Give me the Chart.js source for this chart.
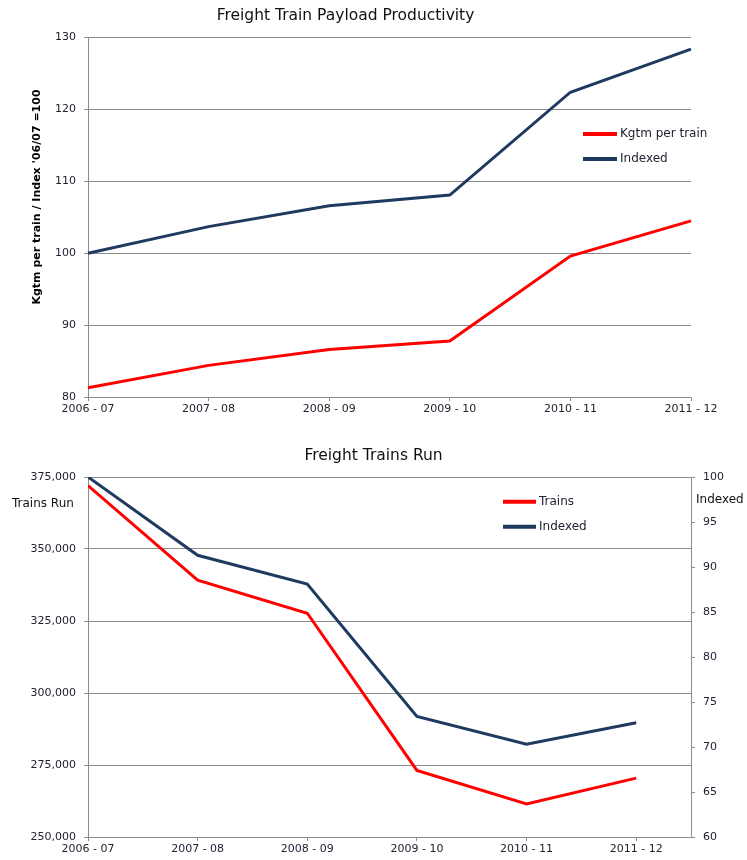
<!DOCTYPE html>
<html>
<head>
<meta charset="utf-8">
<script src="https://cdn.jsdelivr.net/npm/chart.js@4.4.1/dist/chart.umd.min.js"></script>
<style>
  body { margin: 0; background: #fff; }
  #wrap { position: relative; width: 747px; height: 860px; }
  canvas { position: absolute; left: 0; }
  #top { top: 0; }
  #bottom { top: 436px; }
</style>
</head>
<body>
<div id="wrap">
  <canvas id="top" width="747" height="420"></canvas>
  <canvas id="bottom" width="747" height="424"></canvas>
</div>
<script>
// financial years on the x axis
const years = ['2006 - 07', '2007 - 08', '2008 - 09', '2009 - 10', '2010 - 11', '2011 - 12'];

// top chart: payload productivity
const kgtmPerTrain = [81.3, 84.4, 86.6, 87.8, 99.6, 104.5];
const kgtmIndexed = [100, 103.7, 106.6, 108.1, 122.4, 128.4];

// bottom chart: trains run
const trainsRun = [372000, 339200, 327700, 273100, 261500, 270450];
const trainsIndexed = [100, 91.3, 88.1, 73.4, 70.3, 72.7];

const RED = '#ff0000';
const NAVY = '#1f3a60';
const GRID = '#8c8c8c';
const TXT = '#222233';
const FONT = 'DejaVu Sans';

Chart.defaults.font.family = FONT;
Chart.defaults.font.size = 11;
Chart.defaults.color = TXT;

// draws the in-plot legend and the free axis captions
const extrasPlugin = {
  id: 'extras',
  afterDraw(chart, args, opts) {
    const ctx = chart.ctx;
    ctx.save();
    const lg = opts.legend;
    if (lg) {
      chart.data.datasets.forEach((ds, i) => {
        const y = lg.y + i * lg.gap;
        ctx.strokeStyle = ds.borderColor;
        ctx.lineWidth = 4;
        ctx.beginPath();
        ctx.moveTo(lg.x, y);
        ctx.lineTo(lg.x + lg.len, y);
        ctx.stroke();
        ctx.fillStyle = TXT;
        ctx.font = '12px "' + FONT + '"';
        ctx.textAlign = 'left';
        ctx.textBaseline = 'middle';
        ctx.fillText(ds.label, lg.x + lg.len + 3, y);
      });
    }
    (opts.texts || []).forEach(t => {
      ctx.save();
      ctx.translate(t.x, t.y);
      ctx.rotate(t.rot || 0);
      ctx.fillStyle = t.color || TXT;
      ctx.font = t.font;
      ctx.textAlign = t.align || 'left';
      ctx.textBaseline = 'middle';
      ctx.fillText(t.text, 0, 0);
      ctx.restore();
    });
    ctx.restore();
  }
};

new Chart(document.getElementById('top'), {
  type: 'line',
  data: {
    labels: years,
    datasets: [
      { label: 'Kgtm per train', data: kgtmPerTrain, borderColor: RED, backgroundColor: RED },
      { label: 'Indexed', data: kgtmIndexed, borderColor: NAVY, backgroundColor: NAVY }
    ]
  },
  options: {
    responsive: false,
    animation: false,
    devicePixelRatio: 1,
    layout: { padding: { top: 0, right: 56, left: 0, bottom: 0 } },
    elements: { line: { borderWidth: 3, tension: 0 }, point: { radius: 0 } },
    plugins: {
      legend: { display: false },
      tooltip: { enabled: false },
      title: {
        display: true,
        text: 'Freight Train Payload Productivity',
        color: '#111',
        font: { size: 15.5, weight: 'normal' },
        padding: { top: 7, bottom: 12 }
      },
      extras: {
        legend: { x: 583, y: 134, gap: 25, len: 34 },
        texts: [
          { text: "Kgtm per train / Index '06/07 =100", x: 37, y: 197, rot: -Math.PI / 2,
            align: 'center', font: 'bold 11px "' + FONT + '"', color: '#000' }
        ]
      }
    },
    scales: {
      x: {
        offset: false,
        grid: { drawOnChartArea: false, drawTicks: true, tickLength: 4, color: GRID },
        border: { color: GRID },
        ticks: { padding: 2, maxRotation: 0, autoSkip: false },
        afterFit(s) { s.height = 23; }
      },
      y: {
        min: 80, max: 130,
        ticks: { stepSize: 10, padding: 8 },
        grid: { color: GRID, tickLength: 4 },
        border: { color: GRID },
        afterFit(s) { s.width = 88; }
      }
    }
  },
  plugins: [extrasPlugin]
});

new Chart(document.getElementById('bottom'), {
  type: 'line',
  data: {
    datasets: [
      { label: 'Trains', data: years.map((_, i) => ({ x: i, y: trainsRun[i] })),
        borderColor: RED, backgroundColor: RED, yAxisID: 'y' },
      { label: 'Indexed', data: years.map((_, i) => ({ x: i, y: trainsIndexed[i] })),
        borderColor: NAVY, backgroundColor: NAVY, yAxisID: 'y1' }
    ]
  },
  options: {
    responsive: false,
    animation: false,
    devicePixelRatio: 1,
    layout: { padding: 0 },
    elements: { line: { borderWidth: 3, tension: 0 }, point: { radius: 0 } },
    plugins: {
      legend: { display: false },
      tooltip: { enabled: false },
      title: {
        display: true,
        text: 'Freight Trains Run',
        color: '#111',
        font: { size: 15.5, weight: 'normal' },
        padding: { top: 10.7, bottom: 11.7 }
      },
      extras: {
        legend: { x: 503, y: 65.7, gap: 25, len: 33 },
        texts: [
          { text: 'Trains Run', x: 12, y: 68, font: '12px "' + FONT + '"', color: '#111' },
          { text: 'Indexed', x: 696, y: 64, font: '12px "' + FONT + '"', color: '#111' }
        ]
      }
    },
    scales: {
      x: {
        type: 'linear',
        min: 0, max: 5.5,
        afterBuildTicks(s) { s.ticks = years.map((_, i) => ({ value: i })); },
        ticks: { padding: 2, maxRotation: 0, autoSkip: false, callback: v => years[v] },
        grid: { drawOnChartArea: false, drawTicks: true, tickLength: 4, color: GRID },
        border: { color: GRID },
        afterFit(s) { s.height = 23; }
      },
      y: {
        position: 'left',
        min: 250000, max: 375000,
        ticks: { stepSize: 25000, padding: 8 },
        grid: { color: GRID, tickLength: 4 },
        border: { color: GRID },
        afterFit(s) { s.width = 88; }
      },
      y1: {
        position: 'right',
        min: 60, max: 100,
        ticks: { stepSize: 5, padding: 8 },
        grid: { drawOnChartArea: false, tickLength: 4, color: GRID },
        border: { color: GRID },
        afterFit(s) { s.width = 56; }
      }
    }
  },
  plugins: [extrasPlugin]
});
</script>
</body>
</html>
